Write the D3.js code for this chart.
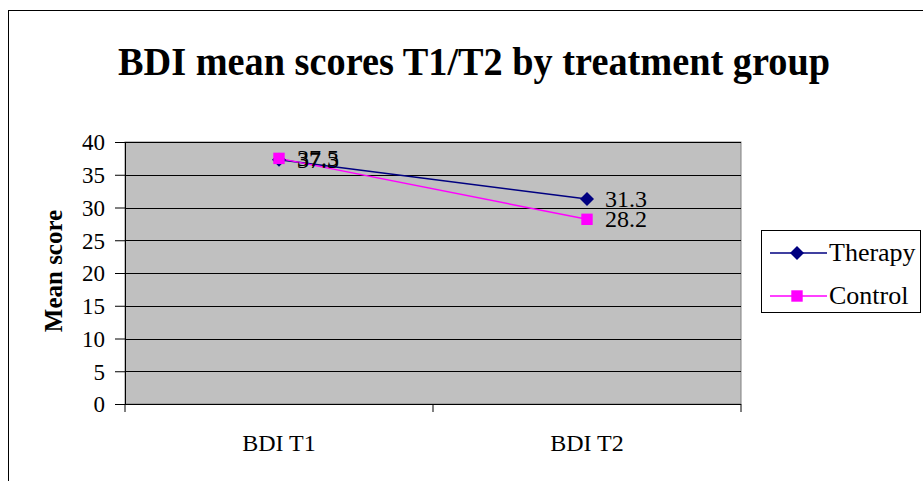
<!DOCTYPE html>
<html>
<head>
<meta charset="utf-8">
<script src="https://cdn.jsdelivr.net/npm/d3@7"></script>
<style>
  html, body { margin: 0; padding: 0; background: #fff; }
  svg text { font-family: "Liberation Serif", "Times New Roman", serif; }
</style>
</head>
<body>
<svg id="chart" width="923" height="481"></svg>
<script>
"use strict";

var categories = ['BDI T1', 'BDI T2'];
var therapy = [37.3, 31.3];
var control = [37.5, 28.2];
var yTicks = [0, 5, 10, 15, 20, 25, 30, 35, 40];

var series = [
  { name: 'Therapy', values: therapy, color: '#000080', shape: 'diamond' },
  { name: 'Control', values: control, color: '#FF00FF', shape: 'square' }
];

var SERIF = '"Liberation Serif", "Times New Roman", serif';

// diamond = square turned by 45 degrees, like the spreadsheet marker
function marker(shape) {
  return d3.symbol().type(d3.symbolSquare).size(shape === 'diamond' ? 98 : 130)();
}
function markerRot(shape) {
  return shape === 'diamond' ? ' rotate(45)' : '';
}

function draw() {
  var svg = d3.select('#chart');
  var margin = { top: 142, left: 125, right: 182, bottom: 77 };
  var width = 923 - margin.left - margin.right;
  var height = 481 - margin.top - margin.bottom;

  // outer chart border
  svg.append('rect')
    .attr('x', 8.5).attr('y', 10.5)
    .attr('width', 930).attr('height', 480)
    .attr('fill', 'none').attr('stroke', '#000').attr('stroke-width', 1);

  svg.append('text')
    .attr('x', 474).attr('y', 75)
    .attr('text-anchor', 'middle')
    .attr('font-family', SERIF)
    .attr('font-weight', 'bold')
    .attr('font-size', '40px')
    .attr('textLength', 712)
    .attr('lengthAdjust', 'spacingAndGlyphs')
    .text('BDI mean scores T1/T2 by treatment group');

  var plot = svg.append('g')
    .attr('transform', 'translate(' + margin.left + ',' + margin.top + ')');

  var X = d3.scaleBand().domain(categories).range([0, width]);
  var Y = d3.scaleLinear().domain([0, 40]).range([height, 0]);

  plot.append('rect')
    .attr('width', width).attr('height', height)
    .attr('fill', '#C0C0C0')
    .attr('stroke', '#808080');

  plot.selectAll('.grid').data(yTicks.slice(1)).enter()
    .append('line')
    .attr('class', 'grid')
    .attr('x1', 0).attr('x2', width)
    .attr('y1', d => Math.round(Y(d)) + 0.5).attr('y2', d => Math.round(Y(d)) + 0.5)
    .attr('stroke', '#000');

  var yaxis = d3.axisLeft(Y).tickValues(yTicks).tickSize(10).tickPadding(10);
  var gy = plot.append('g').attr('class', 'axis y').call(yaxis)
    .attr('font-family', SERIF);
  gy.select('.domain').attr('stroke', '#000');
  gy.selectAll('text').attr('font-size', '23px').attr('dy', '0.34em').attr('fill', '#000');

  var xaxis = d3.axisBottom(X).tickSize(0).tickPadding(30);
  var gx = plot.append('g').attr('class', 'axis x')
    .attr('transform', 'translate(0,' + height + ')')
    .call(xaxis)
    .attr('font-family', SERIF);
  gx.select('.domain').remove();
  gx.selectAll('text').attr('font-size', '24px').attr('fill', '#000');
  // category boundary ticks
  var bounds = [0, X.bandwidth(), width];
  gx.selectAll('.bt').data(bounds).enter().append('line')
    .attr('class', 'bt')
    .attr('x1', d => d).attr('x2', d => d)
    .attr('y1', 0).attr('y2', 8)
    .attr('stroke', '#000');
  gx.append('line').attr('x1', 0).attr('x2', width).attr('y1', 0.5).attr('y2', 0.5).attr('stroke', '#000');

  var cx = d => X(d) + X.bandwidth() / 2;

  var line = d3.line()
    .x((d, i) => cx(categories[i]))
    .y(d => Y(d));

  series.forEach(function (s) {
    plot.append('path')
      .datum(s.values)
      .attr('fill', 'none')
      .attr('stroke', s.color)
      .attr('stroke-width', 1.5)
      .attr('d', line);
  });

  series.forEach(function (s) {
    plot.selectAll('.m-' + s.name).data(s.values).enter()
      .append('path')
      .attr('class', 'm-' + s.name)
      .attr('transform', (d, i) => 'translate(' + cx(categories[i]) + ',' + Y(d) + ')' + markerRot(s.shape))
      .attr('d', marker(s.shape))
      .attr('fill', s.color);

    plot.selectAll('.l-' + s.name).data(s.values).enter()
      .append('text')
      .attr('class', 'l-' + s.name)
      .attr('x', (d, i) => cx(categories[i]) + 18)
      .attr('y', d => Y(d) + 8)
      .attr('font-family', SERIF)
      .attr('font-size', '24px')
      .text(d => d.toFixed(1));
  });

  // legend
  var legend = svg.append('g').attr('transform', 'translate(761,230)');
  legend.append('rect')
    .attr('x', 0.5).attr('y', 0.5)
    .attr('width', 159).attr('height', 82)
    .attr('fill', '#fff').attr('stroke', '#000');
  series.forEach(function (s, i) {
    var g = legend.append('g').attr('transform', 'translate(0,' + (23 + i * 43) + ')');
    g.append('line').attr('x1', 9).attr('x2', 66).attr('y1', 0).attr('y2', 0)
      .attr('stroke', s.color).attr('stroke-width', 1.5);
    g.append('path')
      .attr('transform', 'translate(36,0)' + markerRot(s.shape))
      .attr('d', marker(s.shape))
      .attr('fill', s.color);
    g.append('text').attr('x', 68).attr('y', 8)
      .attr('font-family', SERIF)
      .attr('font-size', '26px')
      .text(s.name);
  });

  // y-axis title
  svg.append('text')
    .attr('transform', 'translate(62,271) rotate(-90)')
    .attr('text-anchor', 'middle')
    .attr('font-family', SERIF)
    .attr('font-weight', 'bold')
    .attr('font-size', '25px')
    .text('Mean score');
}

draw();
</script>
</body>
</html>
